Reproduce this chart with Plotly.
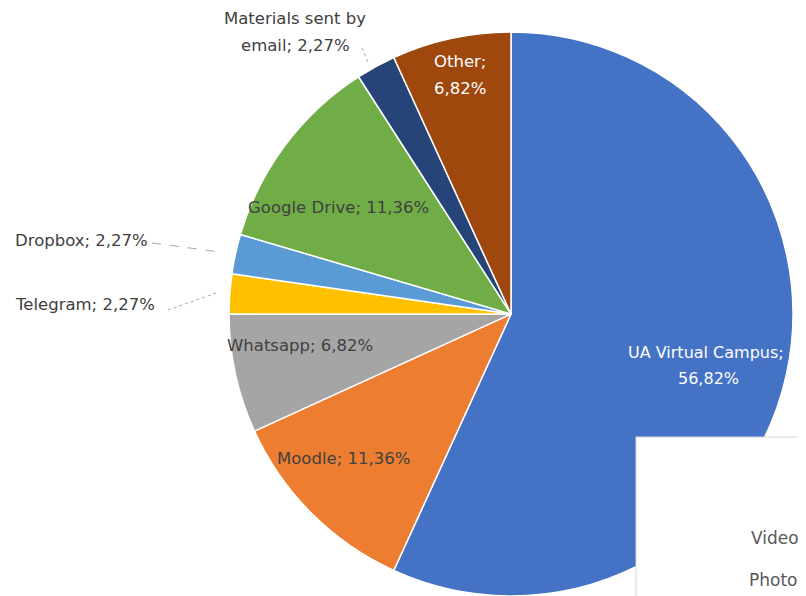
import plotly.graph_objects as go

labels = ["UA Virtual Campus", "Moodle", "Whatsapp", "Telegram", "Dropbox",
          "Google Drive", "Materials sent by email", "Other"]
values = [56.82, 11.36, 6.82, 2.27, 2.27, 11.36, 2.27, 6.82]
colors = ["#4472C4", "#ED7D31", "#A5A5A5", "#FFC000", "#5B9BD5",
          "#70AD47", "#264478", "#9E480E"]

OFF = 8  # page body margin
W, H = 806 - OFF, 596 - OFF
CX, CY, R = 511 - OFF, 314 - OFF, 282


def fmt(v):
    return f"{v:.2f}".replace(".", ",") + "%"


def px(x, y):
    # reference-pixel coordinates -> paper coordinates
    return (x - OFF) / W, 1 - (y - OFF) / H


fig = go.Figure(go.Pie(
    labels=labels, values=values, sort=False, direction="clockwise", rotation=0,
    marker=dict(colors=colors, line=dict(color="white", width=1.5)),
    textinfo="none", hoverinfo="label+percent",
    domain=dict(x=[(CX - R) / W, (CX + R) / W], y=[0, 2 * R / H]),
))

DARK = "#404040"
FONT = "DejaVu Sans"
FS = 16.5
label_pos = {
    "UA Virtual Campus": ([(706, 352), (708, 378)], "white", True, 16),
    "Moodle": ([(343, 458)], DARK, False, FS),
    "Whatsapp": ([(300, 345)], DARK, False, FS),
    "Telegram": ([(85, 305)], DARK, False, FS),
    "Dropbox": ([(81, 240)], DARK, False, FS),
    "Google Drive": ([(338, 208)], DARK, False, FS),
    "Materials sent by email": ([(295, 18), (295, 45)], DARK, True, FS),
    "Other": ([(460, 62), (460, 88)], "white", True, FS),
}

annotations = []
for lab, val in zip(labels, values):
    pos, col, split, size = label_pos[lab]
    if split:
        if lab == "Materials sent by email":
            lines = ["Materials sent by", "email; " + fmt(val)]
        else:
            lines = [lab + ";", fmt(val)]
    else:
        lines = [f"{lab}; {fmt(val)}"]
    for (x, y), t in zip(pos, lines):
        ax, ay = px(x, y)
        annotations.append(dict(x=ax, y=ay, xref="paper", yref="paper", text=t,
                                showarrow=False, xanchor="center", yanchor="middle",
                                font=dict(family=FONT, size=size, color=col)))

# pieces of an overlapping legend box at the bottom right
for t, (x, y) in [("Video", (749, 538)), ("Photo", (747, 580))]:
    ax, ay = px(x, y)
    annotations.append(dict(x=ax, y=ay, xref="paper", yref="paper", text=t,
                            showarrow=False, xanchor="left", yanchor="middle",
                            font=dict(family=FONT, size=17, color="#595959")))

shapes = []
bx0, by0 = px(636, 437)
shapes.append(dict(type="rect", xref="paper", yref="paper", x0=bx0, y0=-0.05,
                   x1=1.05, y1=by0, fillcolor="white",
                   line=dict(color="#D9D9D9", width=1), layer="above"))
for (x0, y0, x1, y1, dash) in [(152, 243, 220, 252, "dash"),
                               (168, 310, 216, 293, "dot"),
                               (362, 48, 368, 62, "dot")]:
    a0, b0 = px(x0, y0)
    a1, b1 = px(x1, y1)
    shapes.append(dict(type="line", xref="paper", yref="paper", x0=a0, y0=b0,
                       x1=a1, y1=b1, line=dict(color="#A6A6A6", width=1, dash=dash)))

fig.update_layout(width=W, height=H, margin=dict(l=0, r=0, t=0, b=0),
                  showlegend=False, paper_bgcolor="white",
                  annotations=annotations, shapes=shapes)

fig.write_html("out.html")
